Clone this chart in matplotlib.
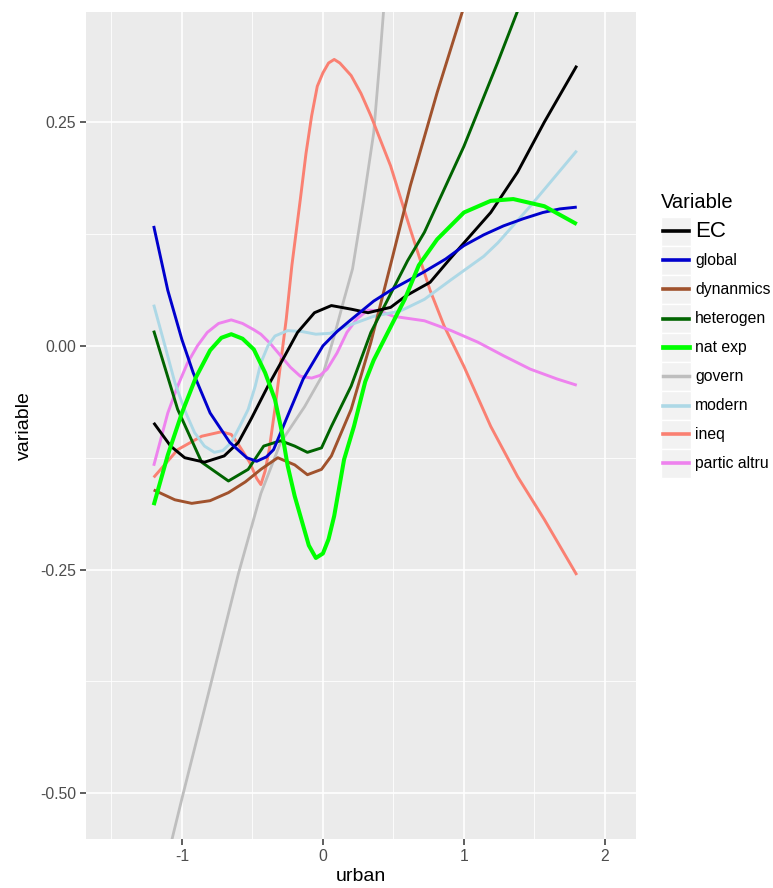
import matplotlib
matplotlib.use('Agg')
import matplotlib.pyplot as plt
from matplotlib.lines import Line2D
from matplotlib.patches import Rectangle
from matplotlib.ticker import FixedLocator

plt.rcParams['font.family'] = ['Liberation Sans', 'DejaVu Sans']

# values (x = urban, y = variable)
ec_x = [-1.2, -1.08, -0.98, -0.84, -0.7, -0.6, -0.51, -0.39, -0.27, -0.18, -0.06, 0.06, 0.2, 0.32, 0.48,
        0.59, 0.76, 0.9, 1.0, 1.19, 1.38, 1.57, 1.8]
ec_y = [-0.086, -0.112, -0.125, -0.130, -0.123, -0.108, -0.082, -0.045, -0.011, 0.015, 0.037, 0.045, 0.041,
        0.037, 0.043, 0.056, 0.071, 0.097, 0.115, 0.149, 0.194, 0.250, 0.313]

global_x = [-1.2, -1.1, -1.0, -0.92, -0.8, -0.66, -0.54, -0.47, -0.4, -0.35, -0.26, -0.14, 0.0, 0.1, 0.19,
            0.36, 0.5, 0.71, 0.87, 1.0, 1.14, 1.28, 1.42, 1.56, 1.68, 1.8]
global_y = [0.134, 0.062, 0.007, -0.030, -0.075, -0.108, -0.125, -0.129, -0.124, -0.116, -0.082, -0.037,
            0.0, 0.016, 0.028, 0.050, 0.064, 0.082, 0.097, 0.112, 0.124, 0.134, 0.142, 0.149, 0.153, 0.155]

dyn_x = [-1.2, -1.05, -0.93, -0.8, -0.67, -0.55, -0.44, -0.32, -0.2, -0.11, -0.01, 0.06, 0.2, 0.34, 0.49,
         0.62, 0.81, 0.99, 1.3, 1.8]
dyn_y = [-0.161, -0.172, -0.176, -0.173, -0.164, -0.152, -0.138, -0.125, -0.133, -0.144, -0.138, -0.123,
         -0.071, 0.004, 0.097, 0.179, 0.283, 0.374, 0.53, 0.78]

het_x = [-1.2, -1.03, -0.86, -0.67, -0.53, -0.42, -0.3, -0.2, -0.11, -0.01, 0.06, 0.2, 0.34, 0.48, 0.6,
         0.72, 0.86, 1.0, 1.12, 1.24, 1.38, 1.8]
het_y = [0.017, -0.071, -0.130, -0.151, -0.138, -0.112, -0.106, -0.112, -0.119, -0.114, -0.090, -0.045,
         0.015, 0.058, 0.095, 0.127, 0.175, 0.223, 0.270, 0.317, 0.374, 0.56]

nat_x = [-1.2, -1.1, -1.0, -0.9, -0.8, -0.72, -0.65, -0.57, -0.49, -0.41, -0.34, -0.29, -0.25, -0.2, -0.16,
         -0.1, -0.05, 0.0, 0.04, 0.08, 0.15, 0.22, 0.3, 0.36, 0.46, 0.58, 0.68, 0.81, 1.0, 1.19, 1.35, 1.57, 1.8]
nat_y = [-0.178, -0.122, -0.075, -0.035, -0.005, 0.009, 0.013, 0.008, -0.004, -0.030, -0.060, -0.097,
         -0.134, -0.168, -0.190, -0.223, -0.237, -0.232, -0.216, -0.190, -0.127, -0.090, -0.040, -0.016,
         0.015, 0.052, 0.090, 0.119, 0.149, 0.162, 0.164, 0.156, 0.136]

gov_x = [-1.2, -1.0, -0.8, -0.6, -0.44, -0.3, -0.13, 0.0, 0.08, 0.15, 0.21, 0.29, 0.36, 0.4, 0.43, 0.5]
gov_y = [-0.635, -0.506, -0.381, -0.255, -0.165, -0.108, -0.068, -0.032, 0.011, 0.052, 0.086, 0.164,
         0.238, 0.313, 0.374, 0.55]

mod_x = [-1.2, -1.12, -1.05, -0.98, -0.91, -0.84, -0.77, -0.71, -0.65, -0.59, -0.53, -0.48, -0.44, -0.39,
         -0.34, -0.25, -0.15, -0.05, 0.05, 0.17, 0.36, 0.55, 0.72, 0.91, 1.14, 1.24, 1.47, 1.8]
mod_y = [0.046, 0.0, -0.041, -0.072, -0.097, -0.112, -0.119, -0.117, -0.108, -0.090, -0.071, -0.045,
         -0.019, 0.0, 0.011, 0.017, 0.016, 0.013, 0.014, 0.022, 0.033, 0.039, 0.052, 0.074, 0.100, 0.115,
         0.156, 0.218]

ineq_x = [-1.2, -1.03, -0.86, -0.72, -0.65, -0.6, -0.52, -0.47, -0.44, -0.41, -0.38, -0.34, -0.3, -0.26,
          -0.22, -0.16, -0.12, -0.08, -0.04, 0.0, 0.04, 0.08, 0.12, 0.2, 0.27, 0.34, 0.48, 0.62, 0.76, 0.86,
          1.0, 1.19, 1.38, 1.57, 1.8]
ineq_y = [-0.147, -0.116, -0.101, -0.096, -0.099, -0.110, -0.130, -0.148, -0.155, -0.140, -0.115, -0.070,
          -0.020, 0.030, 0.090, 0.164, 0.215, 0.257, 0.290, 0.305, 0.316, 0.320, 0.316, 0.302, 0.282, 0.257,
          0.201, 0.130, 0.062, 0.022, -0.023, -0.090, -0.146, -0.194, -0.256]

alt_x = [-1.2, -1.1, -1.03, -0.96, -0.89, -0.82, -0.74, -0.65, -0.57, -0.49, -0.44, -0.37, -0.3, -0.23,
         -0.16, -0.08, -0.02, 0.03, 0.1, 0.17, 0.24, 0.32, 0.4, 0.5, 0.72, 0.91, 1.1, 1.28, 1.47, 1.66, 1.8]
alt_y = [-0.134, -0.075, -0.045, -0.019, 0.0, 0.015, 0.025, 0.029, 0.025, 0.018, 0.013, 0.002, -0.011,
         -0.024, -0.034, -0.036, -0.033, -0.026, -0.008, 0.015, 0.030, 0.040, 0.039, 0.033, 0.028, 0.017,
         0.004, -0.011, -0.026, -0.037, -0.044]

names = ['EC', 'global', 'dynanmics', 'heterogen', 'nat exp', 'govern', 'modern', 'ineq', 'partic altru']
colors = ['black', '#0000CD', '#A0522D', '#006400', '#00FF00', '#BEBEBE', '#ADD8E6', '#FA8072', '#EE82EE']
widths = [2.1, 2.1, 2.1, 2.1, 2.9, 2.0, 2.1, 2.1, 2.1]
series = [(ec_x, ec_y), (global_x, global_y), (dyn_x, dyn_y), (het_x, het_y), (nat_x, nat_y),
          (gov_x, gov_y), (mod_x, mod_y), (ineq_x, ineq_y), (alt_x, alt_y)]

fig = plt.figure(figsize=(7.73, 8.88), dpi=100)
ax = fig.add_axes([86/773, 1 - 839/888, 550/773, 827/888])
ax.set_facecolor('#EBEBEB')
for s in ax.spines.values():
    s.set_visible(False)

# draw order roughly as in the reference
order = [5, 7, 8, 6, 2, 3, 0, 1, 4]
for i in order:
    xs, ys = series[i]
    ax.plot(xs, ys, color=colors[i], lw=widths[i], solid_capstyle='butt',
            solid_joinstyle='round', zorder=3)

ax.set_xlim(-1.68, 2.22)
ax.set_ylim(-0.551, 0.373)
ax.xaxis.set_major_locator(FixedLocator([-1, 0, 1, 2]))
ax.xaxis.set_minor_locator(FixedLocator([-1.5, -0.5, 0.5, 1.5]))
ax.yaxis.set_major_locator(FixedLocator([-0.5, -0.25, 0, 0.25]))
ax.yaxis.set_minor_locator(FixedLocator([-0.375, -0.125, 0.125]))
ax.set_yticklabels(['-0.50', '-0.25', '0.00', '0.25'])
ax.set_xticklabels(['-1', '0', '1', '2'])
ax.grid(True, which='major', color='white', lw=1.2)
ax.grid(True, which='minor', color='white', lw=0.6)
ax.set_axisbelow(True)
ax.tick_params(which='major', length=4, width=1.1, color='#333333', labelcolor='#4D4D4D',
               labelsize=11.3, pad=3)
ax.tick_params(which='minor', length=0)
ax.set_xlabel('urban', fontsize=14, labelpad=3)
ax.set_ylabel('variable', fontsize=14, labelpad=5)

# legend drawn by hand in figure pixels
fig.text(661/773, 1 - 202/888, 'Variable', fontsize=14.5, va='center', ha='left')
top = 217
step = 29
for k, name in enumerate(names):
    y0 = top + k * step
    fig.add_artist(Rectangle((661/773, 1 - (y0 + step)/888), 30/773, step/888,
                             transform=fig.transFigure, facecolor='#F2F2F2', edgecolor='white', lw=1))
    yc = 1 - (y0 + step/2)/888
    fig.add_artist(Line2D([663/773, 689/773], [yc, yc], transform=fig.transFigure,
                          color=colors[k], lw=widths[k] + 0.5))
    fig.text(695/773, yc, name, fontsize=16 if k == 0 else 11.3, va='center', ha='left')

plt.savefig('out.png', dpi=100)
